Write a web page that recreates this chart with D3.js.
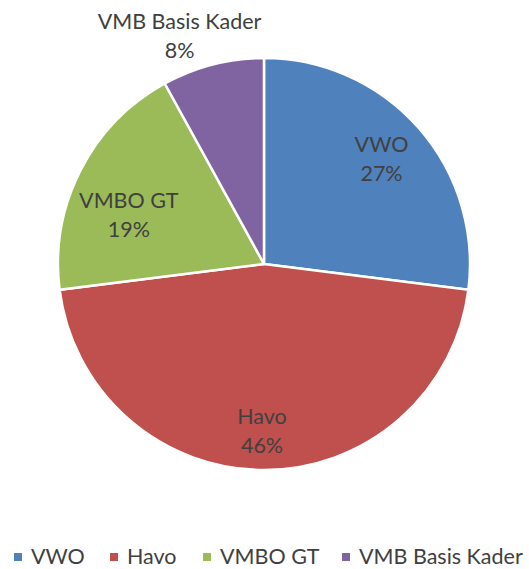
<!DOCTYPE html>
<html>
<head>
<meta charset="utf-8">
<script src="https://cdn.jsdelivr.net/npm/d3@7"></script>
<style>
body{margin:0;background:#fff;}
svg text{font-family:Lato,"Open Sans",sans-serif;fill:#404040;}
</style>
</head>
<body>
<svg id="canvas" width="529" height="569"></svg>
<script>
// data
let categories=["VWO","Havo","VMBO GT","VMB Basis Kader"];
let values=[27,46,19,8];
let colors=["#4F81BD","#C0504D","#9BBB59","#8064A2"];

let w=529,h=569;
let cx=264,cy=264,r=206;
let fs="21.5px";
let canvas=d3.select("#canvas");

let pie=d3.pie().sort(null).value(d=>d)(values);
let arc=d3.arc().innerRadius(0).outerRadius(r);

let g=canvas.append("g").attr("transform","translate("+cx+","+cy+")");
g.selectAll("path").data(pie).enter().append("path")
  .attr("d",arc)
  .attr("fill",(d,i)=>colors[i])
  .attr("stroke","#fff").attr("stroke-width",2.5).attr("stroke-linejoin","miter");

let total=d3.sum(values);
let inLabel=d3.arc().innerRadius(r*0.78).outerRadius(r*0.78);
// best-fit nudges, like Excel places them
let nudge=[[-3,0],[-2,5],[8,23],[-23,10]];

pie.forEach((d,i)=>{
  let share=d.value/total;
  let x,y;
  if(share<0.1){
    // small slice: label outside, above the pie
    let a=(d.startAngle+d.endAngle)/2;
    x=Math.sin(a)*(r*1.2);
    y=-Math.cos(a)*(r*1.2);
  }else{
    [x,y]=inLabel.centroid(d);
  }
  x+=nudge[i][0]; y+=nudge[i][1];
  let t=g.append("text").attr("text-anchor","middle").style("font-size",fs);
  t.append("tspan").attr("x",x).attr("y",y-6).text(categories[i]);
  t.append("tspan").attr("x",x).attr("y",y+23).text(Math.round(share*100)+"%");
});

// legend
let legendX=[14,110,203,342];
let lg=canvas.append("g").attr("transform","translate(0,557)");
categories.forEach((c,i)=>{
  lg.append("rect").attr("x",legendX[i]).attr("y",-4).attr("width",8).attr("height",8).attr("fill",colors[i]);
  lg.append("text").attr("x",legendX[i]+17).attr("y",7).style("font-size",fs).text(c);
});
</script>
</body>
</html>
